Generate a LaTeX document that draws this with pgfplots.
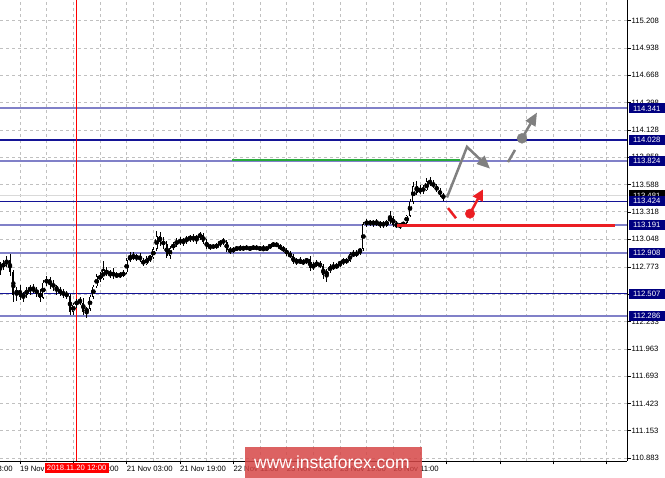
\documentclass[border=0pt]{standalone}
\usepackage{pgfplots}
\pgfplotsset{compat=1.18}
\usepackage{pgfplotstable}
\usepackage{fontspec}
\setmainfont{Liberation Sans}
\usetikzlibrary{arrows.meta}

\definecolor{lvldark}{RGB}{0,0,128}
\definecolor{lvlline}{RGB}{20,20,150}
\definecolor{lvllight}{RGB}{128,128,200}
\definecolor{gridgray}{RGB}{192,192,192}
\definecolor{arrgray}{RGB}{128,128,128}
\definecolor{mtgreen}{RGB}{40,170,60}
\definecolor{mtred}{RGB}{235,30,35}
\definecolor{wmred}{RGB}{214,70,70}

\newcommand{\tfont}{\fontsize{7.7}{8}\selectfont}

% H1 bars, x = bar index (0 = 19 Nov 19:00)
\pgfplotstableread{
i o h l c
-6 112.75 112.82 112.69 112.78
-5 112.78 112.84 112.74 112.80
-4 112.80 112.88 112.77 112.84
-3 112.84 112.90 112.68 112.72
-2 112.72 112.74 112.43 112.50
-1 112.50 112.58 112.44 112.55
0 112.55 112.60 112.45 112.48
1 112.48 112.53 112.43 112.50
2 112.50 112.58 112.47 112.55
3 112.55 112.60 112.50 112.56
4 112.56 112.60 112.52 112.54
5 112.54 112.58 112.48 112.52
6 112.52 112.56 112.43 112.47
7 112.47 112.64 112.46 112.62
8 112.62 112.68 112.58 112.65
9 112.65 112.67 112.56 112.60
10 112.60 112.64 112.54 112.58
11 112.58 112.60 112.50 112.54
12 112.54 112.58 112.49 112.52
13 112.52 112.56 112.47 112.50
14 112.50 112.54 112.46 112.49
15 112.49 112.51 112.30 112.33
16 112.33 112.42 112.30 112.40
17 112.40 112.46 112.37 112.44
18 112.44 112.48 112.40 112.42
19 112.42 112.47 112.30 112.33
20 112.33 112.38 112.27 112.36
21 112.36 112.50 112.34 112.48
22 112.48 112.60 112.46 112.58
23 112.58 112.70 112.56 112.68
24 112.68 112.72 112.62 112.66
25 112.66 112.83 112.64 112.74
26 112.74 112.77 112.68 112.70
27 112.70 112.74 112.66 112.72
28 112.72 112.76 112.65 112.68
29 112.68 112.72 112.66 112.70
30 112.70 112.72 112.66 112.69
31 112.69 112.74 112.67 112.72
32 112.72 112.86 112.70 112.84
33 112.84 112.92 112.82 112.88
34 112.88 112.92 112.84 112.86
35 112.86 112.90 112.83 112.88
36 112.88 112.91 112.82 112.84
37 112.84 112.86 112.78 112.80
38 112.80 112.88 112.79 112.86
39 112.86 112.89 112.82 112.87
40 112.87 112.97 112.85 112.95
41 112.95 113.13 112.93 113.08
42 113.08 113.12 112.98 113.02
43 113.02 113.07 112.95 113.00
44 113.00 113.03 112.86 112.88
45 112.88 112.98 112.85 112.96
46 112.96 113.02 112.94 113.00
47 113.00 113.06 112.97 113.03
48 113.03 113.07 112.99 113.02
49 113.02 113.06 112.98 113.04
50 113.04 113.08 113.00 113.05
51 113.05 113.09 113.02 113.07
52 113.07 113.10 113.02 113.04
53 113.04 113.09 113.00 113.08
54 113.08 113.12 113.04 113.09
55 113.09 113.11 113.00 113.02
56 113.02 113.05 112.95 112.97
57 112.97 113.00 112.94 112.98
58 112.98 113.00 112.95 112.97
59 112.97 113.01 112.95 112.99
60 112.99 113.04 112.97 113.03
61 113.03 113.06 112.99 113.02
62 113.02 113.04 112.92 112.94
63 112.94 112.97 112.90 112.93
64 112.93 112.97 112.91 112.95
65 112.95 112.98 112.93 112.96
66 112.96 112.99 112.93 112.95
67 112.95 112.98 112.93 112.97
68 112.97 112.99 112.94 112.95
69 112.95 112.98 112.93 112.96
70 112.96 112.99 112.94 112.97
71 112.97 112.99 112.94 112.95
72 112.95 112.98 112.93 112.96
73 112.96 112.99 112.93 112.94
74 112.94 112.98 112.93 112.97
75 112.97 113.00 112.95 112.99
76 112.99 113.02 112.97 113.00
77 113.00 113.02 112.97 112.98
78 112.98 113.00 112.94 112.96
79 112.96 112.98 112.92 112.94
80 112.94 112.96 112.88 112.90
81 112.90 112.93 112.86 112.88
82 112.88 112.90 112.80 112.82
83 112.82 112.86 112.79 112.84
84 112.84 112.87 112.80 112.81
85 112.81 112.85 112.79 112.83
86 112.83 112.86 112.80 112.85
87 112.85 112.88 112.73 112.76
88 112.76 112.82 112.74 112.80
89 112.80 112.84 112.77 112.81
90 112.81 112.83 112.76 112.78
91 112.78 112.80 112.65 112.69
92 112.69 112.75 112.63 112.73
93 112.73 112.80 112.71 112.78
94 112.78 112.82 112.74 112.76
95 112.76 112.81 112.75 112.80
96 112.80 112.83 112.77 112.82
97 112.82 112.86 112.79 112.84
98 112.84 112.86 112.80 112.83
99 112.83 112.92 112.82 112.90
100 112.90 112.94 112.87 112.89
101 112.89 112.94 112.87 112.92
102 112.92 112.96 112.89 112.95
103 112.95 113.22 112.93 113.20
104 113.20 113.25 113.17 113.22
105 113.22 113.24 113.18 113.20
106 113.20 113.24 113.17 113.22
107 113.22 113.25 113.18 113.19
108 113.19 113.23 113.16 113.21
109 113.21 113.23 113.16 113.18
110 113.18 113.24 113.17 113.23
111 113.23 113.33 113.20 113.26
112 113.26 113.28 113.17 113.19
113 113.19 113.23 113.16 113.18
114 113.18 113.21 113.15 113.19
115 113.19 113.22 113.17 113.21
116 113.21 113.29 113.20 113.28
117 113.28 113.45 113.27 113.42
118 113.42 113.61 113.40 113.57
119 113.57 113.62 113.48 113.51
120 113.51 113.58 113.49 113.55
121 113.55 113.58 113.50 113.53
122 113.53 113.65 113.52 113.62
123 113.62 113.66 113.57 113.60
124 113.60 113.63 113.55 113.57
125 113.57 113.59 113.51 113.53
126 113.53 113.55 113.47 113.49
127 113.49 113.51 113.43 113.45
}\candles

\begin{document}
\begin{tikzpicture}[
  lvlbox/.style={anchor=west, xshift=1.5pt, fill=lvldark, text=white, font=\tfont,
    inner sep=0pt, minimum height=10pt, minimum width=36pt}]
\begin{axis}[
  name=ax, scale only axis, width=627pt, height=461pt,
  xmin=-6, xmax=182.1, ymin=110.854, ymax=115.413,
  clip mode=individual,
  axis x line*=bottom, axis y line*=right,
  axis line style={-, black, line width=0.8pt},
  tick style={black, line width=0.6pt},
  tick align=outside, major tick length=3.5pt, minor tick length=0pt,
  xtick={0,16,...,176}, minor x tick num=1,
  xticklabels={19 Nov 19:00, 20 Nov 11:00, 21 Nov 03:00, 21 Nov 19:00, 22 Nov 11:00,
    23 Nov 03:00, 23 Nov 19:00, 26 Nov 11:00, {}, {}, {}, {}},
  ytick={110.883,111.153,111.423,111.693,111.963,112.233,112.503,112.773,113.048,
    113.318,113.588,113.858,114.128,114.398,114.668,114.938,115.208},
  yticklabels={110.883,111.153,111.423,111.693,111.963,112.233,112.503,112.773,113.048,
    113.318,113.588,113.858,114.128,114.398,114.668,114.938,115.208},
  grid=both,
  grid style={gridgray, dash pattern=on 3pt off 3pt, line width=0.7pt},
  ticklabel style={font=\tfont, inner sep=0pt},
  xticklabel style={anchor=north west, yshift=-1pt},
  yticklabel style={anchor=west, xshift=1pt},
]
% support / resistance levels
\addplot[lvllight, line width=1.8pt] coordinates {(-6,114.341) (182.1,114.341)};
\addplot[lvlline, line width=1.1pt] coordinates {(-6,114.028) (182.1,114.028)};
\addplot[lvllight, line width=1.8pt] coordinates {(-6,113.824) (182.1,113.824)};
\addplot[gray!30, line width=1.5pt] coordinates {(-6,113.481) (182.1,113.481)};
\addplot[lvlline, line width=1.1pt] coordinates {(-6,113.424) (182.1,113.424)};
\addplot[lvllight, line width=1.8pt] coordinates {(-6,113.191) (182.1,113.191)};
\addplot[lvllight, line width=1.8pt] coordinates {(-6,112.908) (182.1,112.908)};
\addplot[lvlline, line width=1.1pt] coordinates {(-6,112.507) (182.1,112.507)};
\addplot[lvllight, line width=1.8pt] coordinates {(-6,112.286) (182.1,112.286)};
% time marker
\addplot[red, line width=0.9pt] coordinates {(17,110.854) (17,115.413)};

% candles: wicks
\addplot[only marks, mark=none, error bars/.cd, y dir=both, y explicit, error mark=none,
  error bar style={draw=black, line width=0.8pt}]
  table[x=i, y expr={(\thisrow{h}+\thisrow{l})/2}, y error expr={(\thisrow{h}-\thisrow{l})/2}] {\candles};
% bearish bodies
\addplot[only marks, mark=none, restrict expr to domain={\thisrow{o}-\thisrow{c}}{0:5},
  error bars/.cd, y dir=both, y explicit, error mark=none,
  error bar style={draw=black, line width=2.2pt}]
  table[x=i, y expr={(\thisrow{o}+\thisrow{c})/2}, y error expr={max(abs(\thisrow{o}-\thisrow{c})/2,0.004)}] {\candles};
% bullish bodies
\addplot[only marks, mark=none, restrict expr to domain={\thisrow{c}-\thisrow{o}}{0.0001:5},
  error bars/.cd, y dir=both, y explicit, error mark=none,
  error bar style={draw=black, line width=2.2pt}]
  table[x=i, y expr={(\thisrow{o}+\thisrow{c})/2}, y error expr={abs(\thisrow{o}-\thisrow{c})/2}] {\candles};
\addplot[only marks, mark=none, restrict expr to domain={\thisrow{c}-\thisrow{o}}{0.0001:5},
  error bars/.cd, y dir=both, y explicit, error mark=none,
  error bar style={draw=white, line width=0.8pt}]
  table[x=i, y expr={(\thisrow{o}+\thisrow{c})/2}, y error expr={max(abs(\thisrow{o}-\thisrow{c})/2-0.007,0)}] {\candles};

% trade lines
\addplot[mtgreen, line width=2.8pt] coordinates {(63.6,113.83) (132,113.83)};
\addplot[mtred, line width=2.8pt] coordinates {(113.1,113.184) (178.5,113.184)};

% scenario arrows
\addplot[arrgray, line width=2.5pt, -{Triangle[length=13pt,width=11pt]}]
  coordinates {(128.1,113.46) (134.1,113.96) (141.0,113.745)};
\addplot[arrgray, line width=2.5pt] coordinates {(146.4,113.81) (148.5,113.93)};
\addplot[arrgray, line width=2.5pt, -{Triangle[length=13pt,width=11pt]}]
  coordinates {(150.6,114.045) (155.1,114.30)};
\addplot[only marks, mark=*, mark size=5pt, mark options={fill=arrgray, draw=arrgray}]
  coordinates {(150.6,114.045)};
\addplot[mtred, line width=2.5pt] coordinates {(128.4,113.355) (130.8,113.255)};
\addplot[mtred, line width=2.5pt, -{Triangle[length=11pt,width=11pt]}]
  coordinates {(135.0,113.30) (138.9,113.54)};
\addplot[only marks, mark=*, mark size=4.7pt, mark options={fill=mtred, draw=mtred}]
  coordinates {(135.0,113.30)};

\coordinate (L1) at (axis cs:182.1,114.341);
\coordinate (L2) at (axis cs:182.1,114.028);
\coordinate (L3) at (axis cs:182.1,113.824);
\coordinate (L4) at (axis cs:182.1,113.481);
\coordinate (L5) at (axis cs:182.1,113.424);
\coordinate (L6) at (axis cs:182.1,113.191);
\coordinate (L7) at (axis cs:182.1,112.908);
\coordinate (L8) at (axis cs:182.1,112.507);
\coordinate (L9) at (axis cs:182.1,112.286);
\coordinate (T17) at (axis cs:17,110.854);
\coordinate (Tm16) at (axis cs:-16,110.854);
\end{axis}

% price boxes on the scale
\node[lvlbox, fill=black] at (L4) {113.481};
\foreach \c/\t in {L1/114.341, L2/114.028, L3/113.824, L5/113.424, L6/113.191,
  L7/112.908, L8/112.507, L9/112.286}
  \node[lvlbox] at (\c) {\t};

% cut-off time label and the red date box
\node[font=\tfont, inner sep=0pt, anchor=north west] at ([yshift=-4.5pt]Tm16) {19 Nov 03:00};
\node[fill=red, text=white, font=\tfont, inner sep=0pt, minimum height=10pt,
  minimum width=64pt, anchor=north] at ([yshift=-2pt]T17) {2018.11.20 12:00};

% watermark
\fill[wmred, opacity=0.85] ([shift={(245pt,14pt)}]ax.south west) rectangle ([shift={(422pt,-17pt)}]ax.south west);
\node[text=white, font=\fontsize{17.5}{18}\selectfont, inner sep=0pt]
  at ([shift={(332pt,-1.5pt)}]ax.south west) {www.instaforex.com};

\pgfresetboundingbox
\path[use as bounding box] ([yshift=-17pt]ax.south west) rectangle ([xshift=665pt]ax.north west);
\end{tikzpicture}
\end{document}
